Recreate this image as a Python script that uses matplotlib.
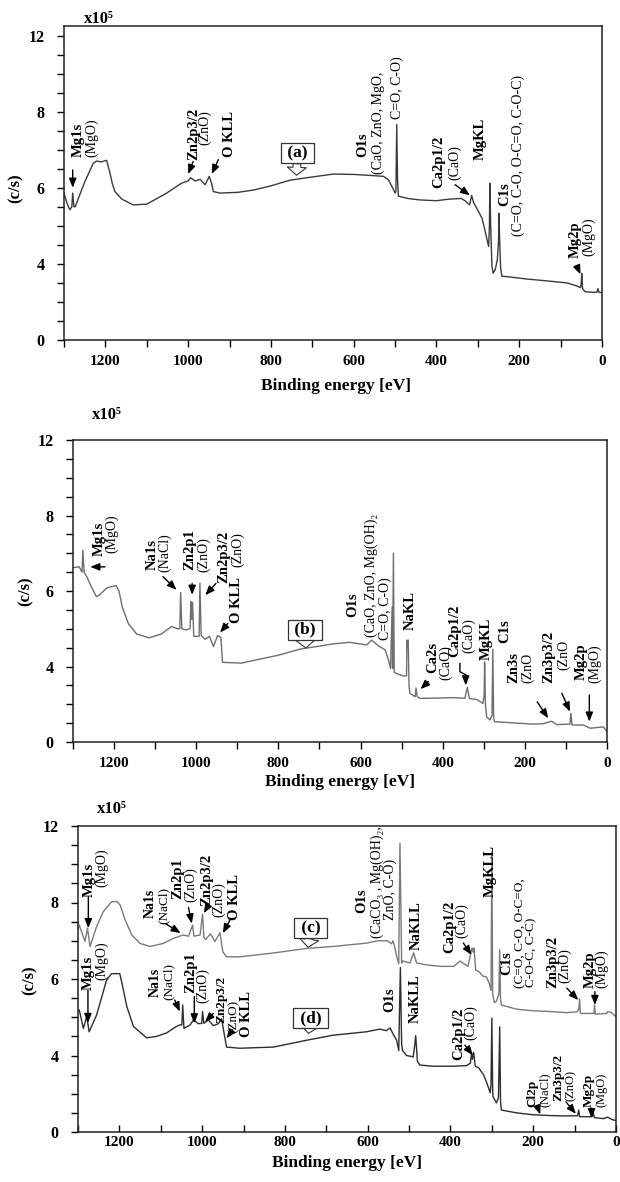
import numpy as np
import matplotlib
matplotlib.use('Agg')
import matplotlib.pyplot as plt
from matplotlib.ticker import FixedLocator, MultipleLocator

plt.rcParams['font.family'] = ['Liberation Serif', 'DejaVu Serif']

# ---------------- data (binding energy eV, counts x10^5 c/s) ----------------
a_ev = [1300, 1293, 1286, 1281, 1279, 1276, 1273, 1250, 1229, 1221, 1210, 1197, 1189, 1183,
        1177, 1160, 1133, 1100, 1075, 1052, 1016, 1000, 994, 983, 971, 959, 949, 943, 939,
        923, 880, 842, 800, 754, 689, 649, 600, 568, 528, 516, 506, 500, 498, 496, 494, 492,
        470, 440, 400, 370, 340, 330, 320, 315, 310, 303, 290, 283, 277, 274, 272, 271, 269,
        266, 263, 258, 253, 250, 249, 247, 245, 242, 230, 180, 130, 85, 62, 52, 50, 49, 47,
        41, 20, 12, 10, 7, 0]
a_cps = [5.86, 5.6, 5.42, 5.5, 5.86, 5.5, 5.5, 6.15, 6.65, 6.7, 6.68, 6.72, 6.39, 6.1,
         5.9, 5.7, 5.55, 5.57, 5.72, 5.86, 6.12, 6.18, 6.26, 6.18, 6.22, 6.08, 6.3, 6.1, 5.9,
         5.86, 5.88, 5.94, 6.05, 6.2, 6.3, 6.36, 6.35, 6.33, 6.3, 6.21, 6.0, 5.86, 5.9, 7.66, 6.2, 5.78,
         5.72, 5.68, 5.66, 5.7, 5.72, 5.65, 5.55, 5.8, 5.6, 5.47, 5.2, 4.89, 4.6, 4.46, 5.0, 6.12, 5.0,
         3.9, 3.51, 3.7, 4.1, 4.6, 5.33, 4.5, 3.8, 3.35, 3.33, 3.2, 3.1, 3.0, 2.85, 2.75, 3.0, 3.5, 2.7,
         2.54, 2.5, 2.52, 2.7, 2.5, 2.5]

b_ev = [1300, 1285, 1278, 1276, 1273, 1265, 1255, 1243, 1235, 1218, 1205, 1195, 1188, 1180,
        1165, 1145, 1115, 1085, 1060, 1045, 1040, 1038, 1035, 1025, 1015, 1013, 1011, 1009, 1006,
        993, 991, 988, 978, 968, 958, 948, 940, 936, 890, 800, 747, 666, 626, 585, 573, 557, 540,
        532, 527, 523, 522, 520, 518, 514, 496, 488, 487, 485, 484, 482, 480, 467, 465, 462, 455,
        407, 374, 346, 340, 335, 317, 302, 299, 298, 296, 293, 285, 280, 278, 276, 274, 220, 179,
        155, 135, 122, 90, 88, 85, 58, 41, 9, 0]
b_cps = [6.62, 6.64, 6.5, 7.08, 6.5, 6.35, 6.1, 5.85, 5.9, 6.08, 6.12, 6.14, 6.0, 5.57,
         5.13, 4.86, 4.76, 4.86, 5.06, 5.0, 5.0, 5.96, 5.0, 4.97, 5.0, 5.72, 5.25, 5.7, 4.8,
         4.8, 6.21, 4.82, 4.72, 4.8, 4.53, 4.82, 4.77, 4.11, 4.09, 4.3, 4.46, 4.6, 4.64, 4.57, 4.7, 4.55, 4.44,
         4.17, 3.9, 5.58, 3.9, 7.0, 3.7, 3.64, 3.5, 3.5, 4.7, 4.5, 4.7, 3.0, 2.58, 2.4, 2.86, 2.4, 2.31,
         2.33, 2.35, 2.32, 2.9, 2.3, 2.25, 2.05, 2.5, 4.12, 2.0, 1.34, 1.17, 1.4, 4.46, 1.3, 1.08, 1.0, 0.95,
         0.97, 1.1, 0.92, 0.95, 1.52, 0.9, 0.9, 0.73, 0.8, 0.55]

c_ev = [1300, 1297, 1283, 1277, 1271, 1255, 1239, 1219, 1206, 1198, 1186, 1170, 1150, 1126,
        1094, 1070, 1046, 1033, 1023, 1020, 1005, 999, 996, 992, 980, 969, 957, 950, 941, 909,
        828, 747, 684, 602, 575, 553, 542, 539, 535, 529, 525, 522, 518, 515, 498, 489, 482,
        458, 425, 392, 377, 358, 348, 345, 343, 339, 329, 322, 313, 306, 302, 300, 298, 294,
        289, 283, 281, 279, 277, 240, 201, 160, 120, 95, 90, 88, 86, 64, 53, 52, 50, 23, 20,
        11, 2, 0]
c_cps = [7.3, 7.41, 6.98, 7.33, 6.85, 7.37, 7.76, 8.04, 8.05, 7.93, 7.54, 7.15, 6.93, 6.85,
         6.93, 7.06, 7.15, 7.12, 7.41, 7.12, 7.15, 7.69, 7.1, 7.03, 7.18, 6.98, 7.21, 6.71, 6.58, 6.58,
         6.68, 6.8, 6.85, 6.94, 7.0, 7.0, 6.92, 7.0, 6.85, 6.55, 6.4, 11.1, 6.42, 6.47, 6.42, 6.68, 6.42,
         6.37, 6.33, 6.33, 6.47, 6.33, 6.81, 6.7, 6.81, 6.24, 6.17, 6.08, 6.05, 5.88, 5.7, 10.65, 5.6, 5.38,
         5.42, 5.6, 6.76, 5.5, 5.32, 5.21, 5.17, 5.15, 5.12, 5.14, 5.2, 5.48, 5.1, 5.1, 5.1, 5.32, 5.08, 5.1, 5.15,
         5.12, 5.03, 5.03]

d_ev = [1300, 1297, 1287, 1279, 1273, 1255, 1231, 1219, 1199, 1194, 1182, 1166, 1134, 1110,
        1086, 1062, 1054, 1049, 1047, 1044, 1029, 1021, 1009, 1001, 999, 996, 985, 973, 961, 953,
        947, 941, 909, 828, 747, 684, 603, 571, 555, 546, 538, 530, 525, 521, 518, 516, 506, 490,
        486, 484, 482, 480, 474, 442, 393, 361, 352, 349, 347, 344, 340, 332, 320, 312, 304, 302,
        300, 298, 297, 289, 284, 281, 279, 277, 265, 240, 200, 160, 120, 93, 90, 88, 58, 55, 52,
        30, 20, 10, 0]
d_cps = [5.19, 5.19, 4.71, 5.02, 4.62, 5.06, 5.97, 6.14, 6.14, 5.9, 5.28, 4.76, 4.46, 4.5,
         4.59, 4.76, 4.8, 4.8, 5.32, 4.71, 4.8, 4.93, 4.83, 4.84, 5.15, 4.84, 4.93, 4.78, 4.83, 4.96,
         4.58, 4.22, 4.19, 4.22, 4.4, 4.53, 4.62, 4.69, 4.65, 4.72, 4.55, 4.4, 4.13, 6.3, 4.3, 4.13, 4.0, 3.93,
         4.3, 4.52, 4.2, 3.7, 3.5, 3.44, 3.44, 3.47, 3.6, 4.06, 3.8, 4.08, 3.44, 3.36, 2.99, 2.56, 2.05, 2.5,
         4.98, 2.2, 1.84, 1.52, 1.8, 4.75, 1.6, 1.15, 1.1, 1.0, 0.9, 0.86, 0.84, 0.85, 1.15, 0.8, 0.8, 0.99, 0.75,
         0.7, 0.78, 0.65, 0.6]

y_tick_values = [0, 4, 6, 8, 12]
y_minor_values = [1, 2, 3, 4.5, 5, 5.5, 6.5, 7, 7.5, 9, 10, 11]


def fwd(y):
    y = np.asarray(y, float)
    return np.where(y < 4, y / 4.0, np.where(y < 8, 1 + (y - 4) / 2.0, 3 + (y - 8) / 4.0))


def inv(p):
    p = np.asarray(p, float)
    return np.where(p < 1, 4 * p, np.where(p < 3, 4 + 2 * (p - 1), 8 + 4 * (p - 3)))


W, H = 620, 1182
fig = plt.figure(figsize=(W / 100, H / 100), dpi=100)


def make_ax(left, right, top, bottom, ytop, xdir='out', xpad=6):
    ax = fig.add_axes([left / W, 1 - bottom / H, (right - left) / W, (bottom - top) / H])
    ax.set_yscale('function', functions=(fwd, inv))
    ax.set_xlim(1300, 0)
    ax.set_ylim(0, ytop)
    ax.yaxis.set_major_locator(FixedLocator(y_tick_values))
    ax.yaxis.set_minor_locator(FixedLocator(y_minor_values))
    ax.set_yticklabels([str(v) for v in y_tick_values])
    ax.xaxis.set_major_locator(MultipleLocator(200))
    ax.xaxis.set_minor_locator(MultipleLocator(100))
    ax.xaxis.set_major_formatter(matplotlib.ticker.FuncFormatter(lambda v, p: '%d' % v))
    ax.tick_params(which='both', direction='out', length=5, width=1.0, color='black')
    ax.tick_params(axis='x', which='both', direction=xdir)
    ax.tick_params(axis='y', which='major', pad=9, labelsize=11.5)
    ax.tick_params(axis='x', which='major', pad=xpad, labelsize=11)
    for lbl in ax.get_xticklabels() + ax.get_yticklabels():
        lbl.set_fontweight('bold')
    for s in ax.spines.values():
        s.set_linewidth(1.1)
        s.set_color('#222222')
    return ax


def lab(ax, x, y, s, bold=True, size=None):
    if size is None:
        size = 10.5 if bold else 10
    ax.text(x, y, s, rotation=90, ha='center', va='bottom',
            fontweight='bold' if bold else 'normal', fontsize=size, color='black')


def arr(ax, x0, y0, x1, y1):
    ax.annotate('', xy=(x1, y1), xytext=(x0, y0),
                arrowprops=dict(arrowstyle='-|>,head_length=0.55,head_width=0.22',
                                color='black', lw=1.0, shrinkA=0, shrinkB=0))


def callout(ax, x, y, s, xt, yt):
    ax.annotate(' ' + s + ' ', xy=(xt, yt), xytext=(x, y), ha='center', va='center',
                fontweight='bold', fontsize=12.5,
                bbox=dict(boxstyle='square,pad=0.12', fc='white', ec='#333333', lw=0.9),
                arrowprops=dict(arrowstyle='simple,head_length=0.45,head_width=1.1,tail_width=0.45',
                                fc='white', ec='#333333', lw=0.8, shrinkA=0, shrinkB=0))


def frame_text(xpix, ypix, s, **kw):
    fig.text(xpix / W, 1 - ypix / H, s, **kw)


# ---------------- panel (a) ----------------
ax_a = make_ax(64, 602, 26, 340, 12.5)
ax_a.plot(a_ev, a_cps, color='#3a3a3a', lw=1.0)
lab(ax_a, 1265, 6.82, 'Mg1s'); lab(ax_a, 1233, 6.82, '(MgO)', False)
arr(ax_a, 1279, 6.47, 1279, 6.0)
lab(ax_a, 987, 6.74, 'Zn2p3/2'); lab(ax_a, 959, 7.13, '(ZnO)', False)
arr(ax_a, 988, 6.69, 1000, 6.36)
lab(ax_a, 899, 6.82, 'O KLL')
arr(ax_a, 927, 6.74, 943, 6.36)
callout(ax_a, 736, 6.91, '(a)', 738, 6.33)
lab(ax_a, 577, 6.82, 'O1s'); lab(ax_a, 540, 6.36, '(CaO, ZnO, MgO,', False)
lab(ax_a, 495, 7.8, 'C=O, C-O)', False)
lab(ax_a, 395, 6.0, 'Ca2p1/2'); lab(ax_a, 355, 6.21, '(CaO)', False)
arr(ax_a, 355, 6.08, 319, 5.8)
lab(ax_a, 295, 6.74, 'MgKL')
lab(ax_a, 234, 5.51, 'C1s'); lab(ax_a, 202, 4.72, '(C=O, C-O, O-C=O, C-O-C)', False)
lab(ax_a, 65, 4.15, 'Mg2p'); lab(ax_a, 33, 4.2, '(MgO)', False)
arr(ax_a, 61, 3.9, 52, 3.45)

# ---------------- panel (b) ----------------
ax_b = make_ax(73, 607, 440, 742, 12)
ax_b.plot(b_ev, b_cps, color='#6e6e6e', lw=1.0)
lab(ax_b, 1236, 6.93, 'Mg1s'); lab(ax_b, 1205, 7.0, '(MgO)', False)
arr(ax_b, 1222, 6.64, 1258, 6.64)
lab(ax_b, 1108, 6.56, 'Na1s'); lab(ax_b, 1078, 6.51, '(NaCl)', False)
arr(ax_b, 1081, 6.38, 1048, 6.03)
lab(ax_b, 1015, 6.56, 'Zn2p1'); lab(ax_b, 981, 6.5, '(ZnO)', False)
arr(ax_b, 1010, 6.2, 1010, 5.9)
lab(ax_b, 932, 6.2, 'Zn2p3/2'); lab(ax_b, 898, 6.64, '(ZnO)', False)
arr(ax_b, 952, 6.2, 978, 5.89)
lab(ax_b, 901, 5.14, 'O KLL')
arr(ax_b, 923, 5.14, 942, 4.9)
callout(ax_b, 735, 4.97, '(b)', 733, 4.49)
lab(ax_b, 618, 5.32, 'O1s'); lab(ax_b, 573, 4.79, '(CaO, ZnO, Mg(OH)\u2082', False)
lab(ax_b, 540, 4.7, 'C=O, C-O)', False)
lab(ax_b, 480, 4.97, 'NaKL')
lab(ax_b, 425, 3.64, 'Ca2s'); lab(ax_b, 393, 3.28, '(CaO)', False)
arr(ax_b, 435, 3.2, 454, 2.8)
lab(ax_b, 370, 4.26, 'Ca2p1/2'); lab(ax_b, 338, 4.35, '(CaO)', False)
ax_b.plot([358, 358, 344], [4.08, 3.72, 3.56], color='black', lw=1.0)
arr(ax_b, 344, 3.56, 344, 3.0)
lab(ax_b, 293, 4.17, 'MgKL')
lab(ax_b, 248, 4.61, 'C1s')
lab(ax_b, 228, 3.11, 'Zn3s'); lab(ax_b, 192, 3.11, '(ZnO', False)
arr(ax_b, 170, 2.13, 143, 1.26)
lab(ax_b, 143, 3.11, 'Zn3p3/2'); lab(ax_b, 106, 3.81, '(ZnO', False)
arr(ax_b, 110, 2.58, 90, 1.61)
lab(ax_b, 62, 3.28, 'Mg2p'); lab(ax_b, 29, 3.11, '(MgO)', False)
arr(ax_b, 43, 2.49, 43, 1.08)

# ---------------- panel (c)/(d) ----------------
ax_c = make_ax(78, 616, 826, 1132, 12, xdir='in', xpad=3)
ax_c.plot(c_ev, c_cps, color='#7a7a7a', lw=1.0)
ax_c.plot(d_ev, d_cps, color='#2e2e2e', lw=1.0)
# (c) labels
lab(ax_c, 1273, 8.3, 'Mg1s'); lab(ax_c, 1243, 8.8, '(MgO)', False)
arr(ax_c, 1275, 8.3, 1275, 7.33)
lab(ax_c, 1126, 7.6, 'Na1s', size=10); lab(ax_c, 1093, 7.45, '(NaCl)', False, 9.5)
arr(ax_c, 1089, 7.45, 1052, 7.2)
lab(ax_c, 1058, 8.2, 'Zn2p1'); lab(ax_c, 1029, 8.02, '(ZnO)', False)
arr(ax_c, 1033, 7.87, 1025, 7.45)
lab(ax_c, 989, 7.9, 'Zn2p3/2'); lab(ax_c, 961, 7.63, '(ZnO)', False)
arr(ax_c, 984, 7.95, 996, 7.72)
lab(ax_c, 922, 7.54, 'O KLL')
arr(ax_c, 933, 7.54, 950, 7.2)
callout(ax_c, 738, 7.33, '(c)', 744, 6.83)
lab(ax_c, 614, 7.72, 'O1s'); lab(ax_c, 578, 7.06, '(CaCO\u2083 , Mg(OH)\u2082,', False)
lab(ax_c, 546, 7.54, 'ZnO, C-O)', False)
lab(ax_c, 482, 6.76, 'NaKLL')
lab(ax_c, 401, 6.67, 'Ca2p1/2'); lab(ax_c, 373, 7.06, '(CaO)', False)
arr(ax_c, 369, 6.94, 349, 6.63)
lab(ax_c, 303, 8.31, 'MgKLL')
lab(ax_c, 264, 6.1, 'C1s'); lab(ax_c, 232, 5.76, '(C=O, C-O, O-C=O,', False, 9.5)
lab(ax_c, 205, 5.8, 'C-O-C, C-C)', False, 9.5)
lab(ax_c, 153, 5.76, 'Zn3p3/2'); lab(ax_c, 123, 5.9, '(ZnO)', False)
arr(ax_c, 119, 5.76, 91, 5.45)
lab(ax_c, 63, 5.76, 'Mg2p'); lab(ax_c, 34, 5.76, '(MgO)', False)
arr(ax_c, 51, 5.67, 51, 5.32)
# (d) labels
lab(ax_c, 1275, 5.7, 'Mg1s'); lab(ax_c, 1243, 5.97, '(MgO)', False)
arr(ax_c, 1276, 5.7, 1276, 4.85)
lab(ax_c, 1113, 5.54, 'Na1s', size=10); lab(ax_c, 1081, 5.45, '(NaCl)', False, 9.5)
arr(ax_c, 1066, 5.45, 1054, 5.15)
lab(ax_c, 1028, 5.63, 'Zn2p1'); lab(ax_c, 999, 5.37, '(ZnO)', False)
arr(ax_c, 1019, 5.54, 1019, 4.84)
lab(ax_c, 953, 4.85, 'Zn2p3/2', size=9.5); lab(ax_c, 925, 4.59, '(ZnO)', False, 9.5)
arr(ax_c, 973, 5.1, 993, 4.88)
lab(ax_c, 894, 4.49, 'O KLL')
arr(ax_c, 926, 4.67, 941, 4.45)
callout(ax_c, 738, 4.97, '(d)', 743, 4.58)
lab(ax_c, 546, 5.15, 'O1s')
lab(ax_c, 486, 4.84, 'NaKLL')
lab(ax_c, 379, 3.76, 'Ca2p1/2'); lab(ax_c, 351, 4.4, '(CaO)', False)
arr(ax_c, 365, 4.27, 346, 4.01)
lab(ax_c, 202, 1.3, 'Cl2p', size=9.5); lab(ax_c, 172, 1.3, '(NaCl)', False, 9)
arr(ax_c, 188, 1.22, 183, 0.92)
lab(ax_c, 140, 1.6, 'Zn3p3/2', size=9.5); lab(ax_c, 109, 1.6, '(ZnO)', False, 9)
arr(ax_c, 121, 1.58, 97, 0.95)
lab(ax_c, 67, 1.3, 'Mg2p', size=9.5); lab(ax_c, 36, 1.3, '(MgO)', False, 9)
arr(ax_c, 59, 1.25, 59, 0.72)

# ---------------- frame texts ----------------
for (xp, yp) in [(99, 19), (107, 415), (112, 809)]:
    frame_text(xp, yp, 'x10\u2075', ha='center', va='center', fontsize=12, fontweight='bold')
for (xp, yp) in [(16, 188), (26, 591), (30, 980)]:
    frame_text(xp, yp, '(c/s)', ha='center', va='center', rotation=90, fontsize=12, fontweight='bold')
for (xp, yp) in [(336, 386), (340, 782), (347, 1163)]:
    frame_text(xp, yp, 'Binding energy [eV]', ha='center', va='center', fontsize=12.5, fontweight='bold')

fig.savefig('out.png', dpi=100, facecolor='white')
